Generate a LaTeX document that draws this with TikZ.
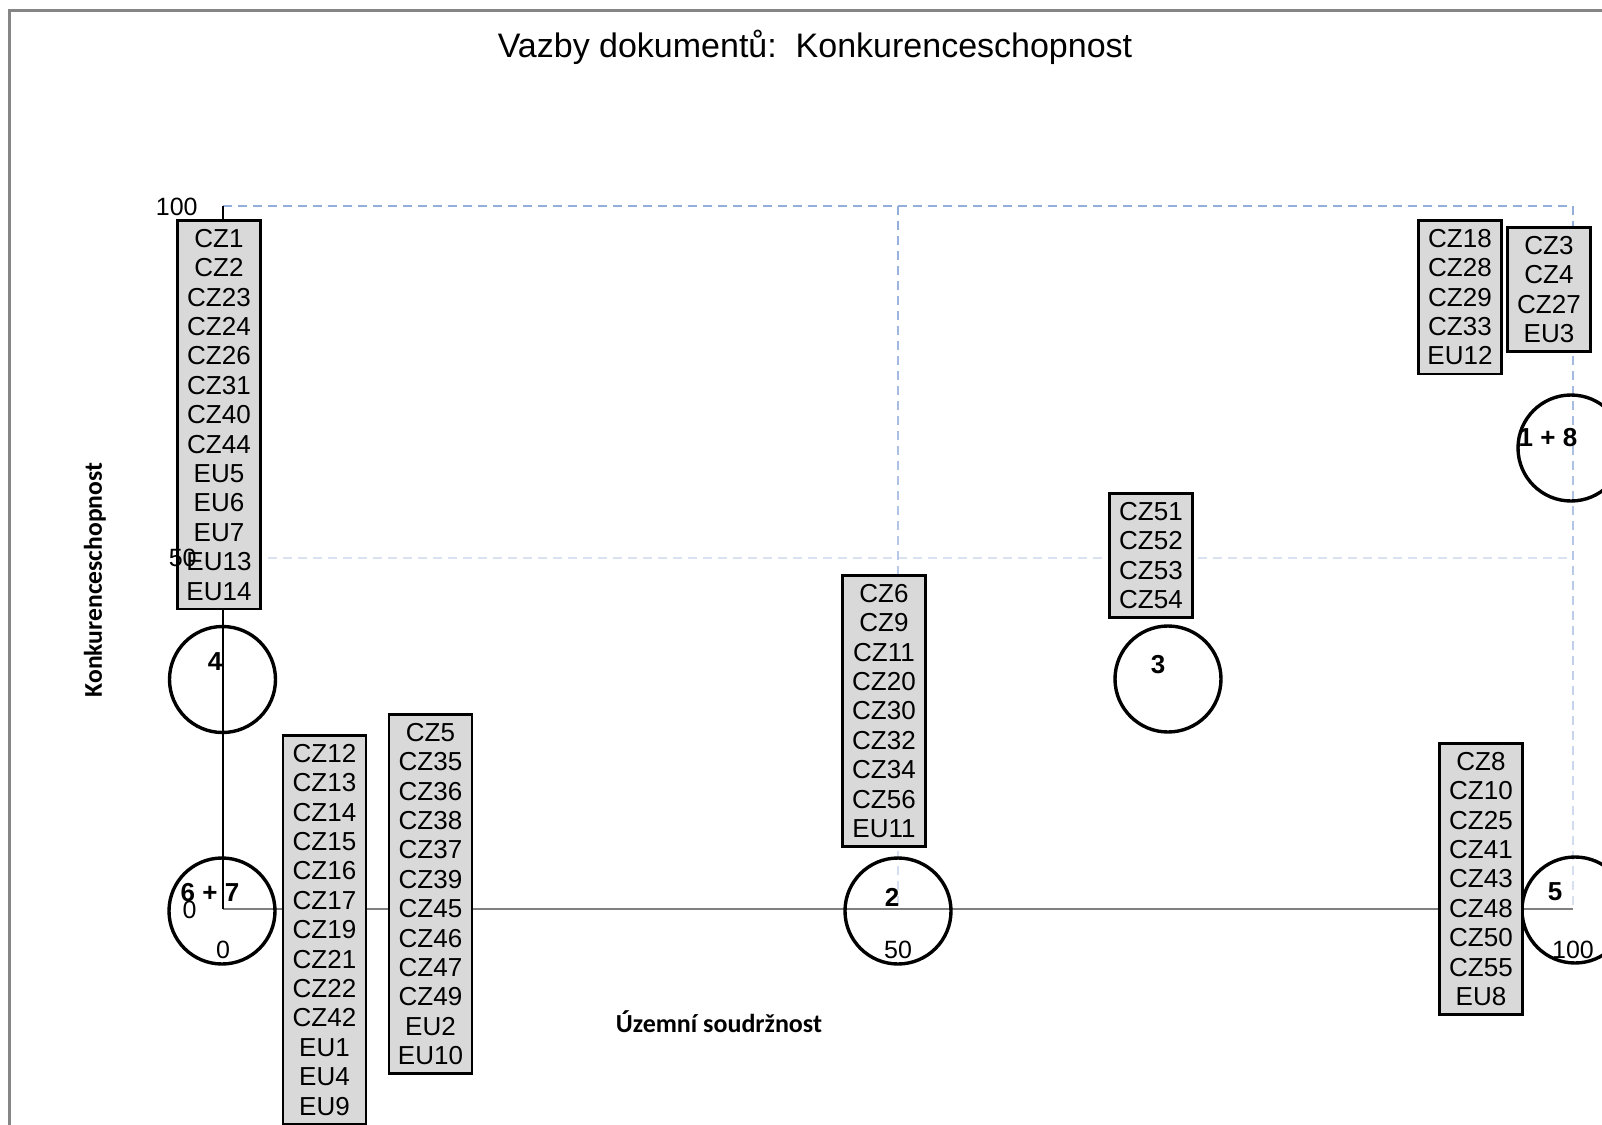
\documentclass[tikz,border=0pt]{standalone}
\usepackage{fontspec}
\setmainfont{Liberation Sans}
\newfontfamily\axisfont{Carlito}
\usetikzlibrary{positioning}

\definecolor{frameclr}{HTML}{858585}
\definecolor{griddark}{HTML}{94AEDC}
\definecolor{gridlight}{HTML}{DAE2F2}
\definecolor{boxfill}{HTML}{D9D9D9}
\definecolor{axisgray}{HTML}{808080}

\begin{document}
\begin{tikzpicture}
[
	              x = 0.5pt,
	              y = -0.5pt,
	  docbox/.style = { draw=black, line width=1.3pt, fill=boxfill, align=center,
	                    font=\fontsize{13}{14.7}\selectfont, minimum width=41.5pt,
	                    inner xsep=0pt, inner ysep=4.4pt, anchor=north },
	  bubble/.style = { draw=black, circle, line width=1.7pt, minimum size=53pt, inner sep=0pt },
	  bubnum/.style = { font=\fontsize{13}{13}\selectfont\bfseries, inner sep=0pt },
	 ticklbl/.style = { font=\fontsize{12.5}{12.5}\selectfont, inner sep=0pt },
	gridline/.style = { line width=1.3pt, dash pattern=on 4.5pt off 3pt }
]
	\useasboundingbox (0,0) rectangle (1602,1125);
	\fill[white] (0,0) rectangle (1602,1125);

	% frame and title
	\draw[frameclr, line width=1.5pt] (9.5,1125) -- (9.5,10) -- (1602,10);
	\node (title) at (815,47) {\fontsize{17}{17}\selectfont Vazby dokumentů:\ \ Konkurenceschopnost};

	% grid
	\draw[gridline, griddark]  (223,206) -- (1573,206);
	\draw[gridline, gridlight] (223,558) -- (1573,558);
	\foreach \gx in {898,1573}
		\foreach \gy in {206,221,...,900}
		{
			\pgfmathsetmacro\mix{(909-\gy)/7.03}
			\draw[line width=1.3pt, griddark!\mix!gridlight] (\gx,\gy) -- (\gx,\gy+9);
		}

	% axes
	\draw[axisgray, line width=0.9pt] (223,909) -- (1573,909);
	\draw[black, line width=0.8pt] (223,206) -- (223,909);

	% groups
	\node[bubble, label={[bubnum, xshift=-3.75pt, yshift=8.75pt]center:4}]   (grp4)  at (222.5,679.5) {};
	\node[bubble, label={[bubnum, xshift=-6pt,    yshift=9pt]center:6 + 7}]  (grp67) at (222,911) {};
	\node[bubble, label={[bubnum, xshift=-3pt,    yshift=7pt]center:2}]      (grp2)  at (898,911) {};
	\node[bubble, label={[bubnum, xshift=-5pt,    yshift=7pt]center:3}]      (grp3)  at (1168,679) {};
	\node[bubble, label={[bubnum, xshift=-10pt,   yshift=9pt]center:5}]      (grp5)  at (1575,910) {};
	\node[bubble, label={[bubnum, xshift=-11.5pt, yshift=5pt]center:1 + 8}]  (grp18) at (1571,448) {};

	% documents
	\node[docbox] (docsA) at (219,219)
		{CZ1\\CZ2\\CZ23\\CZ24\\CZ26\\CZ31\\CZ40\\CZ44\\EU5\\EU6\\EU7\\EU13\\EU14};
	\node[docbox] (docsB) at (324.5,734)
		{CZ12\\CZ13\\CZ14\\CZ15\\CZ16\\CZ17\\CZ19\\CZ21\\CZ22\\CZ42\\EU1\\EU4\\EU9};
	\node[docbox] (docsC) at (430.5,713)
		{CZ5\\CZ35\\CZ36\\CZ38\\CZ37\\CZ39\\CZ45\\CZ46\\CZ47\\CZ49\\EU2\\EU10};
	\node[docbox] (docsD) at (884,574)
		{CZ6\\CZ9\\CZ11\\CZ20\\CZ30\\CZ32\\CZ34\\CZ56\\EU11};
	\node[docbox] (docsE) at (1151,492)
		{CZ51\\CZ52\\CZ53\\CZ54};
	\node[docbox] (docsF) at (1460,219)
		{CZ18\\CZ28\\CZ29\\CZ33\\EU12};
	\node[docbox] (docsG) at (1549,226)
		{CZ3\\CZ4\\CZ27\\EU3};
	\node[docbox] (docsH) at (1481,742)
		{CZ8\\CZ10\\CZ25\\CZ41\\CZ43\\CZ48\\CZ50\\CZ55\\EU8};

	% scale labels
	\node[ticklbl, anchor=east] (y100) at (198,207) {100};
	\node[ticklbl, anchor=east] (y50)  at (197,558) {50};
	\node[ticklbl, anchor=east] (y0)   at (197,910) {0};
	\node[ticklbl] (x0)   at (223,950)  {0};
	\node[ticklbl] (x50)  at (898,950)  {50};
	\node[ticklbl] (x100) at (1573,950) {100};

	\node[rotate=90] (ylab) at (95,580)
		{\axisfont\bfseries\fontsize{12.8}{12.8}\selectfont Konkurenceschopnost};
	\node (xlab) at (719,1022)
		{\axisfont\bfseries\fontsize{13}{13}\selectfont Územní soudržnost};

\end{tikzpicture}
\end{document}
